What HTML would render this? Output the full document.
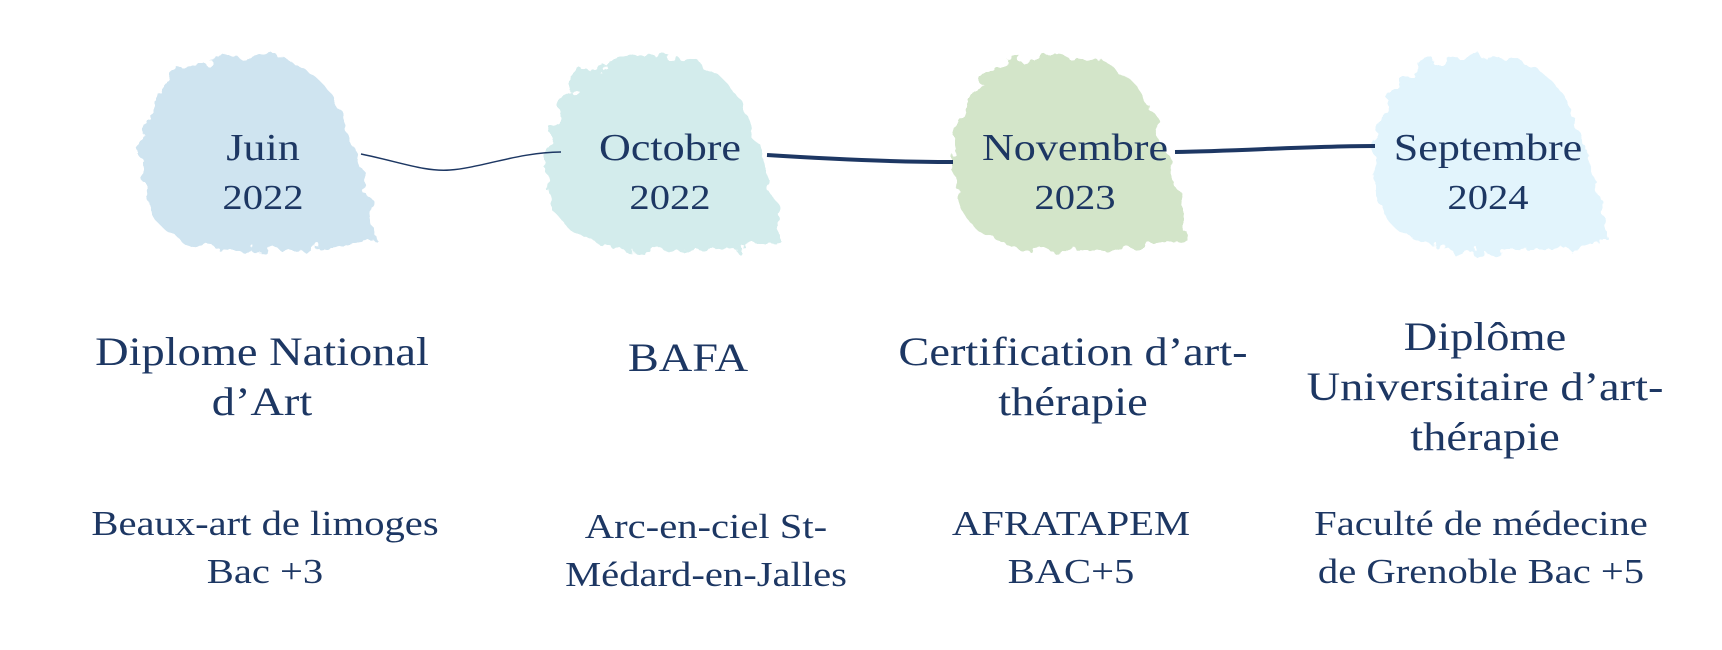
<!DOCTYPE html>
<html><head><meta charset="utf-8"><style>
html,body{margin:0;padding:0;background:#fff;}
body{width:1722px;height:650px;position:relative;overflow:hidden;font-family:"Liberation Serif",serif;color:#1d3763;}
.t{position:absolute;text-align:center;white-space:nowrap;transform:translateX(-50%) scaleX(1.16);}
.m{font-size:38px;line-height:50px;}
.h{font-size:40px;line-height:50px;}
.s{font-size:35px;line-height:50px;}
</style></head><body>
<svg width="1722" height="650" style="position:absolute;left:0;top:0">
<defs>
<filter id="r" x="-20%" y="-20%" width="140%" height="140%">
<feTurbulence type="fractalNoise" baseFrequency="0.06" numOctaves="3" seed="3"/>
<feDisplacementMap in="SourceGraphic" scale="22"/>
</filter>
</defs>
<g filter="url(#r)">
<path d="M150,120 Q160,60 240,55 Q330,55 345,130 Q375,200 375,240 Q300,255 230,250 Q150,245 145,190 Q135,150 150,120Z" fill="#cfe4f0"/>
<path d="M555,120 Q565,60 645,55 Q735,55 750,130 Q780,200 780,240 Q705,255 635,250 Q555,245 550,190 Q540,150 555,120Z" fill="#d3ecec"/>
<path d="M962,120 Q972,60 1052,55 Q1142,55 1157,130 Q1187,200 1187,240 Q1112,255 1042,250 Q962,245 957,190 Q947,150 962,120Z" fill="#d3e5c9"/>
<path d="M1382,120 Q1392,60 1472,55 Q1562,55 1577,130 Q1607,200 1607,240 Q1532,255 1462,250 Q1382,245 1377,190 Q1367,150 1382,120Z" fill="#e2f4fc"/>
</g>
<path d="M361,154 C400,162 425,172 450,170 C480,168 520,152 561,152" fill="none" stroke="#1d3763" stroke-width="1.5"/>
<path d="M767,155 C830,159 890,162 953,162" fill="none" stroke="#1d3763" stroke-width="4"/>
<path d="M1175,152 C1240,151 1310,146 1375,146" fill="none" stroke="#1d3763" stroke-width="4"/>
</svg>
<div class="t m" style="left:263px;top:123px">Juin</div>
<div class="t s" style="left:263px;top:173px">2022</div>
<div class="t m" style="left:670px;top:123px">Octobre</div>
<div class="t s" style="left:670px;top:173px">2022</div>
<div class="t m" style="left:1075px;top:123px">Novembre</div>
<div class="t s" style="left:1075px;top:173px">2023</div>
<div class="t m" style="left:1488px;top:123px">Septembre</div>
<div class="t s" style="left:1488px;top:173px">2024</div>

<div class="t h" style="left:262px;top:327px">Diplome National<br>d’Art</div>
<div class="t h" style="left:688px;top:333px">BAFA</div>
<div class="t h" style="left:1073px;top:327px">Certification d’art-<br>thérapie</div>
<div class="t h" style="left:1485px;top:312px">Diplôme<br>Universitaire d’art-<br>thérapie</div>

<div class="t s" style="left:265px;top:500px;line-height:48px">Beaux-art de limoges<br>Bac +3</div>
<div class="t s" style="left:706px;top:503px;line-height:48px">Arc-en-ciel St-<br>Médard-en-Jalles</div>
<div class="t s" style="left:1071px;top:500px;line-height:48px">AFRATAPEM<br>BAC+5</div>
<div class="t s" style="left:1481px;top:500px;line-height:48px">Faculté de médecine<br>de Grenoble Bac +5</div>
</body></html>
